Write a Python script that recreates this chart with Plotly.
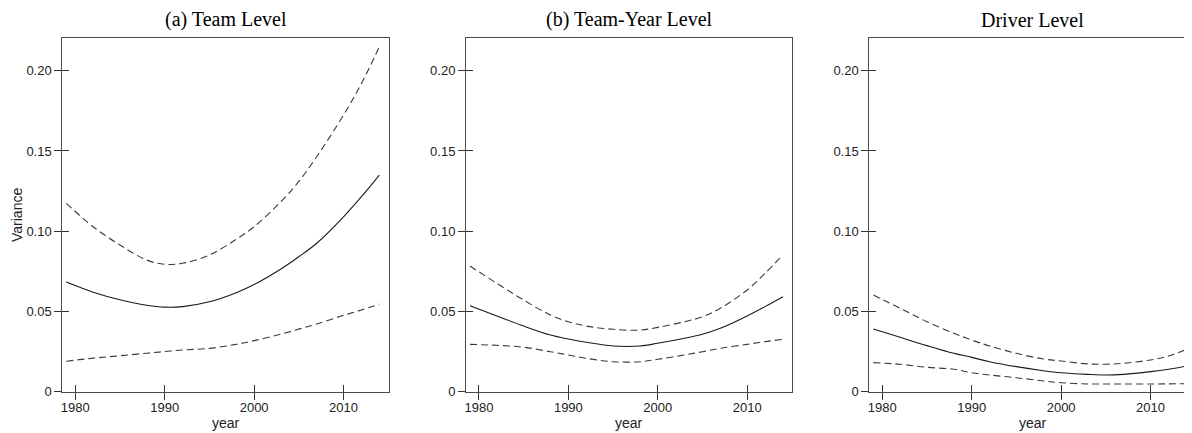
import plotly.graph_objects as go

YEARS = [1979, 1982, 1985, 1988, 1990, 1992, 1995, 1998, 2000, 2003, 2005, 2007, 2010, 2012, 2014]

# (a) Team Level
TEAM_EST = [0.0683, 0.0620, 0.0573, 0.0539, 0.0527, 0.0530, 0.0560, 0.0617, 0.0668, 0.0765, 0.0841, 0.0925, 0.1090, 0.1215, 0.1350]
TEAM_HI = [0.1174, 0.1028, 0.0914, 0.0820, 0.0794, 0.0800, 0.0852, 0.0950, 0.1028, 0.1184, 0.1310, 0.1464, 0.1724, 0.1920, 0.2150]
TEAM_LO = [0.0190, 0.0209, 0.0224, 0.0240, 0.0250, 0.0260, 0.0270, 0.0295, 0.0318, 0.0359, 0.0390, 0.0422, 0.0476, 0.0509, 0.0546]

# (b) Team-Year Level
TY_EST = [0.0536, 0.0472, 0.0409, 0.0353, 0.0328, 0.0308, 0.0285, 0.0285, 0.0302, 0.0333, 0.0358, 0.0395, 0.0472, 0.0530, 0.0592]
TY_HI = [0.0783, 0.0675, 0.0571, 0.0478, 0.0436, 0.0409, 0.0389, 0.0384, 0.0401, 0.0436, 0.0467, 0.0520, 0.0634, 0.0738, 0.0852]
TY_LO = [0.0295, 0.0289, 0.0277, 0.0249, 0.0229, 0.0208, 0.0187, 0.0187, 0.0202, 0.0229, 0.0249, 0.0270, 0.0295, 0.0312, 0.0326]

# Driver Level
DRV_EST = [0.0391, 0.0339, 0.0287, 0.0239, 0.0214, 0.0187, 0.0156, 0.0131, 0.0118, 0.0108, 0.0104, 0.0108, 0.0125, 0.0140, 0.0160]
DRV_HI = [0.0602, 0.0520, 0.0436, 0.0364, 0.0322, 0.0285, 0.0239, 0.0204, 0.0191, 0.0173, 0.0171, 0.0177, 0.0198, 0.0222, 0.0264]
DRV_LO = [0.0181, 0.0171, 0.0152, 0.0140, 0.0118, 0.0104, 0.0087, 0.0067, 0.0056, 0.0048, 0.0048, 0.0048, 0.0048, 0.0049, 0.0050]

PANEL_TITLES = ["(a) Team Level", "(b) Team-Year Level", "Driver Level"]
X_TICKS = [1980, 1990, 2000, 2010]
Y_TICKS = [0, 0.05, 0.10, 0.15, 0.20]
Y_TICK_TEXT = ["0", "0.05", "0.10", "0.15", "0.20"]

# the page body adds an 8px margin; lay the figure out in window pixels
OFF = 8
WIN_W, WIN_H = 1192, 433
W, H = WIN_W - OFF, WIN_H - OFF
# panel boxes in window pixels (left, right); third panel runs off the right edge
PANELS_PX = [(62.3, 388.7), (466.0, 792.3), (869.3, 1195.7)]
TOP_PX, BOT_PX = 38.3, 391.7
X_RANGE = [1978.55, 2015.05]
Y_RANGE = [0, 0.2202]

SANS = "Arial, Liberation Sans, sans-serif"
SERIF = "Times New Roman, Liberation Serif, serif"
FRAME = "#4a4a4a"


def px_x(p):
    return (p - OFF) / W


def px_y(p):
    return 1 - (p - OFF) / H


fig = go.Figure()

series = [
    (TEAM_EST, TEAM_HI, TEAM_LO),
    (TY_EST, TY_HI, TY_LO),
    (DRV_EST, DRV_HI, DRV_LO),
]

y_dom = [px_y(BOT_PX), px_y(TOP_PX)]
fig_right = OFF + W  # last window pixel the figure covers

for i, (est, hi, lo) in enumerate(series):
    n = i + 1
    xa = "x" if n == 1 else f"x{n}"
    ya = "y" if n == 1 else f"y{n}"
    for vals, dash, col in [(hi, "7px,4px", "#3a3a3a"), (lo, "7px,4px", "#3a3a3a"), (est, "solid", "#1a1a1a")]:
        fig.add_trace(go.Scatter(
            x=YEARS, y=vals, mode="lines", xaxis=xa, yaxis=ya,
            line=dict(color=col, width=1.1, dash=dash, shape="spline", smoothing=1.0),
            showlegend=False, hoverinfo="skip",
        ))
    # empty trace so the label/outer-tick overlay axes get drawn
    fig.add_trace(go.Scatter(x=[], y=[], xaxis=f"x{n + 3}", yaxis=f"y{n + 3}", showlegend=False))

    left, right = PANELS_PX[i]
    x_range = list(X_RANGE)
    if right > fig_right:
        # clip the last panel at the figure edge, keep the same scale
        x_range[1] = X_RANGE[0] + (X_RANGE[1] - X_RANGE[0]) * (fig_right - left) / (right - left)
        right = fig_right
    x_dom = [px_x(left), min(px_x(right), 1.0)]

    key_x = "xaxis" if n == 1 else f"xaxis{n}"
    key_y = "yaxis" if n == 1 else f"yaxis{n}"
    fig.layout[key_x] = dict(
        domain=x_dom, range=x_range, anchor=ya, showgrid=False, zeroline=False,
        showline=True, linecolor=FRAME, linewidth=1, mirror=True, automargin=False,
        ticks="inside", ticklen=7, tickcolor="#333", tickvals=X_TICKS,
        showticklabels=False,
    )
    fig.layout[key_y] = dict(
        domain=y_dom, range=Y_RANGE, anchor=xa, showgrid=False, zeroline=False,
        showline=True, linecolor=FRAME, linewidth=1, mirror=(n != 3), automargin=False,
        ticks="inside", ticklen=7, tickcolor="#333", tickvals=Y_TICKS,
        showticklabels=False,
    )
    # overlay axes: outward tick half + labels
    fig.layout[f"xaxis{n + 3}"] = dict(
        overlaying=xa, anchor=f"y{n + 3}", range=x_range, showgrid=False, zeroline=False,
        showline=False, ticks="outside", ticklen=7, tickcolor="#333", automargin=False,
        tickvals=X_TICKS, tickfont=dict(family=SANS, size=13, color="#222"),
        ticklabelstandoff=-3,
    )
    fig.layout[f"yaxis{n + 3}"] = dict(
        overlaying=ya, anchor=f"x{n + 3}", range=Y_RANGE, showgrid=False, zeroline=False,
        showline=False, ticks="outside", ticklen=7, tickcolor="#333", automargin=False,
        tickvals=Y_TICKS, ticktext=Y_TICK_TEXT,
        tickfont=dict(family=SANS, size=13, color="#222"),
    )

    l0, r0 = PANELS_PX[i]
    cx = px_x((l0 + r0) / 2)
    fig.add_annotation(
        text=PANEL_TITLES[i], xref="paper", yref="paper", x=cx, y=px_y(20),
        xanchor="center", yanchor="middle", showarrow=False,
        font=dict(family=SERIF, size=20, color="#000"),
    )
    fig.add_annotation(
        text="year", xref="paper", yref="paper", x=cx, y=px_y(423),
        xanchor="center", yanchor="middle", showarrow=False,
        font=dict(family=SANS, size=14, color="#222"),
    )

fig.add_annotation(
    text="Variance", xref="paper", yref="paper", x=px_x(17), y=sum(y_dom) / 2,
    xanchor="center", yanchor="middle", textangle=-90, showarrow=False,
    font=dict(family=SANS, size=14, color="#222"),
)

fig.update_layout(
    width=W, height=H, autosize=False,
    margin=dict(l=0, r=0, t=0, b=0),
    plot_bgcolor="white", paper_bgcolor="white",
    showlegend=False,
)

fig.write_html("out.html")
